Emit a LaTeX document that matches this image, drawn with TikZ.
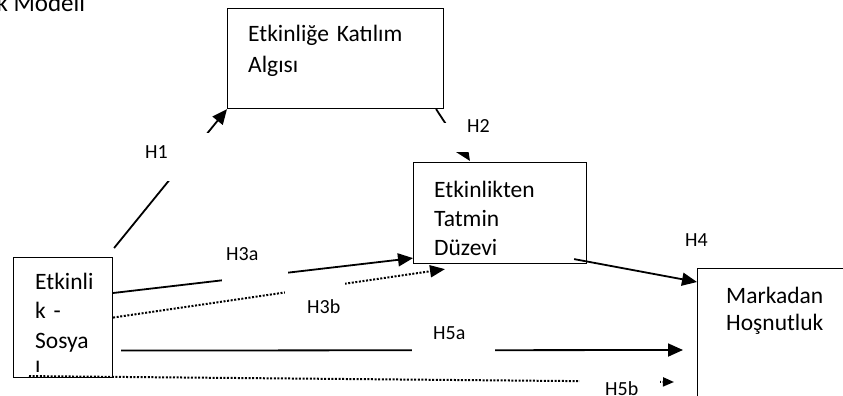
\documentclass[tikz,border=0pt]{standalone}
\usepackage{fontspec}
\setmainfont{Carlito}
\usetikzlibrary{arrows.meta,calc,positioning}
\newcommand\metinfont{\fontsize{23.5pt}{29.5pt}\selectfont}
\newcommand\hipfont{\fontsize{20pt}{24pt}\selectfont}

\tikzset{
  kutu/.style={draw=black,line width=1.1pt,anchor=north west,inner sep=0pt},
  metin/.style={anchor=base west,text width=200pt,align=left,inner sep=0pt},
  ok/.style={line width=1.8pt,-{Triangle[length=15pt,width=13pt]}},
  noktali/.style={line width=2pt,dash pattern=on 2pt off 1.6pt,-{Triangle[length=15pt,width=12pt]}},
  hip/.style={fill=white,anchor=north west,inner sep=0pt,align=left,font=\hipfont}
}

\begin{document}
\begin{tikzpicture}[x=1pt,y=-1pt,font=\metinfont]
  \useasboundingbox (0,0) rectangle (843,396);
  \clip (0,0) rectangle (843,396);
  \node[anchor=base west,font=\fontsize{25pt}{30pt}\selectfont] (baslik) at (-7,12) {k Modeli};
  \node[kutu,minimum width=216pt,minimum height=100pt] (alg) at (227,8) {};
  \node[kutu,minimum width=173pt,minimum height=101pt] (tat) at (413,162) {};
  \node[kutu,minimum width=99pt,minimum height=120pt] (soc) at (13,257) {};
  \node[kutu,minimum width=200pt,minimum height=200pt] (mark) at (697,268) {};

  \draw[ok] ($(soc.north east)+(1,-9)$) -- (alg.south west);
  \draw[ok] ($(alg.south east)+(-8,0)$) -- ($(tat.north west)+(57,-1)$);
  \draw[ok] ($(soc.north east)+(0,36)$) -- ($(tat.south west)+(0,-6)$);
  \draw[noktali] (soc.east) -- ($(tat.south west)+(32,5)$);
  \draw[ok] ($(tat.south east)+(-13,-5)$) -- ($(mark.north west)+(0,14)$);
  \draw[ok] ($(soc.east)+(8,33)$) -- ($(mark.north west)+(-14,82)$);
  \draw[line width=2pt,dash pattern=on 2pt off 1.6pt,-{Triangle[length=11pt,width=9pt]}]
    ($(soc.south west)+(16,-2)$) -- ($(mark.north west)+(-23,114)$);

  \node[hip,text width=80pt,text height=25pt,text depth=23pt] (h1) at (135,133) {\hspace*{10pt}H1};
  \node[hip,text width=60pt,text height=9pt,text depth=20pt] (h2) at (444,123) {\hspace*{23pt}H2};
  \node[hip,text width=66pt,text height=20pt,text depth=23pt] (h3a) at (222,240) {\hspace*{4pt}H3a};
  \node[hip,text width=60pt,text height=33pt,text depth=7pt] (h3b) at (285,280) {\hspace*{22pt}H3b};
  \node[hip,text width=86pt,text height=18pt,text depth=22pt] (h4) at (660,228) {\hspace*{25pt}H4};
  \node[hip,text width=83pt,text height=21pt,text depth=17pt] (h5a) at (412,318) {\hspace*{21pt}H5a};
  \node[hip,text width=80pt,text height=23pt,text depth=30pt] (h5b) at (580,372) {\hspace*{25pt}H5b};

  \node[metin,font=\fontsize{23.5pt}{30pt}\selectfont] (algmetin) at (248,42) {Etkinliğe Katılım\\Algısı};
  \begin{scope}
    \clip (tat.north west) rectangle ($(tat.south east)+(0,-8)$);
    \node[metin,font=\fontsize{23.5pt}{29pt}\selectfont] (tatmetin) at (434,197) {Etkinlikten\\Tatmin\\Düzevi};
  \end{scope}
  \begin{scope}
    \clip (soc.north west) rectangle ($(soc.south east)+(0,-7)$);
    \node[metin] (socmetin) at (35,289) {Etkinli\\k -\\Sosya\\l};
  \end{scope}
  \node[metin,font=\fontsize{23.5pt}{27pt}\selectfont] (markmetin) at (726,303) {Markadan\\Hoşnutluk};
\end{tikzpicture}
\end{document}
